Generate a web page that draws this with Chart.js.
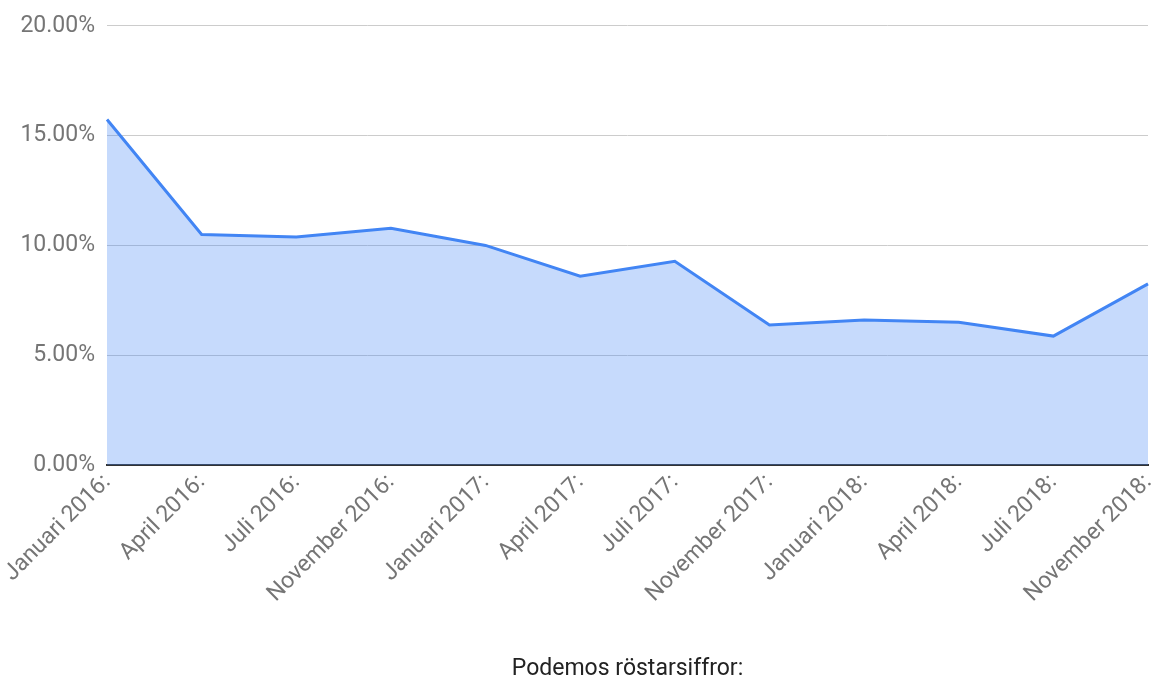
<!DOCTYPE html>
<html>
<head>
<meta charset="utf-8">
<script src="https://cdn.jsdelivr.net/npm/chart.js@4"></script>
<style>
    html, body { margin: 0; padding: 0; background: #fff; }
    #wrap { width: 1166px; height: 678px; }
</style>
</head>
<body>
<div id="wrap"><canvas id="chart" width="1166" height="678"></canvas></div>
<script>
const labels = [
    "Januari 2016:", "April 2016:", "Juli 2016:", "November 2016:",
    "Januari 2017:", "April 2017:", "Juli 2017:", "November 2017:",
    "Januari 2018:", "April 2018:", "Juli 2018:", "November 2018:"
];
const votes = [15.73, 10.5, 10.38, 10.78, 10.0, 8.6, 9.28, 6.38, 6.6, 6.5, 5.87, 8.25];
const yTicks = [0, 5, 10, 15, 20];
const axisTitle = "Podemos röstarsiffror:";

Chart.defaults.font.family = "Roboto, Arial, sans-serif";
Chart.defaults.font.size = 23;

const ctx = document.getElementById("chart").getContext("2d");
new Chart(ctx, {
    type: "line",
    data: {
        labels: labels,
        datasets: [{
            data: votes,
            borderColor: "#4285f4",
            backgroundColor: "rgba(66,133,244,0.3)",
            borderWidth: 3,
            fill: "origin",
            pointRadius: 0,
            tension: 0
        }]
    },
    options: {
        responsive: false,
        animation: false,
        layout: { padding: { left: 0, right: 18, top: 25, bottom: 0 } },
        plugins: {
            legend: { display: false },
            tooltip: { enabled: false }
        },
        scales: {
            x: {
                offset: false,
                grid: { display: false, drawTicks: false },
                border: { color: "#333", width: 2 },
                ticks: {
                    color: "#757575",
                    minRotation: 45,
                    maxRotation: 45,
                    autoSkip: false,
                    padding: 4
                },
                title: {
                    display: true,
                    text: axisTitle,
                    color: "#222",
                    font: { size: 23 },
                    padding: { top: 0, bottom: -5 }
                },
                afterFit: s => { s.height = 213; s.paddingRight = 0; s.paddingLeft = 0; }
            },
            y: {
                min: 0,
                max: 20,
                afterBuildTicks: s => { s.ticks = yTicks.map(v => ({ value: v })); },
                grid: { color: "#cccccc", drawTicks: false },
                border: { display: false },
                ticks: {
                    color: "#757575",
                    padding: 12,
                    callback: v => v.toFixed(2) + "%"
                },
                afterFit: s => { s.width = 107; }
            }
        }
    }
});
</script>
</body>
</html>
